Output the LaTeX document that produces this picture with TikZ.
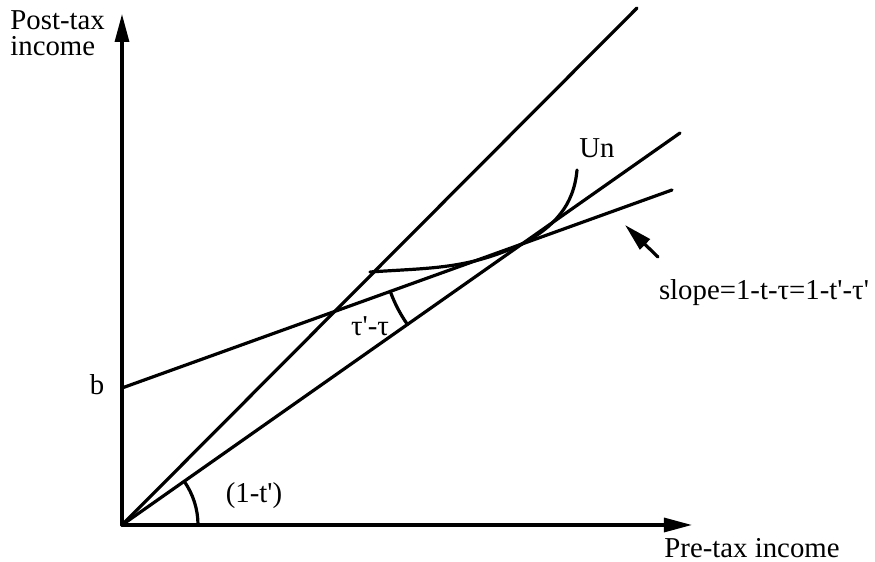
\documentclass[tikz,border=0pt]{standalone}
\usepackage{fontspec}
\setmainfont{Liberation Serif}
\usepackage{tikz}
\usetikzlibrary{arrows.meta,calc}
\newcommand\pr{\textquotesingle}
\tikzset{
  >={Triangle[length=14pt,width=7pt]},
  ln/.style={line width=1.6pt,line cap=round},
  axis/.style={ln,->},
  lab/.style={font=\fontsize{14.4}{13}\selectfont,inner sep=0pt,align=left},
}
\begin{document}
\begin{tikzpicture}[x=0.5pt,y=0.5pt]
\useasboundingbox (-122,-37) rectangle (753,525);
% axes
\coordinate (O) at (0,0);
\coordinate (ytip) at (0,511);
\coordinate (xtip) at (570,0);
\draw[axis] (O) -- (ytip);
\draw[axis] (O) -- (xtip);
\node[lab,anchor=north west] (ylab) at (-112,515) {Post-tax\\income};
\node[lab] (xlab) at (630,-23) {Pre-tax income};
% budget lines
\coordinate (steep) at (515,517);
\coordinate (low) at (558,392);
\coordinate (b) at (0,137);
\coordinate (bend) at (550,335);
\coordinate (T) at (400,281);
\draw[ln] (O) -- (steep);
\draw[ln] (O) -- (low);
\draw[ln] (b) -- (bend);
\node[lab] (blab) at (-25,140) {b};
% indifference curve
\coordinate (ua) at (248,253);
\coordinate (ub) at (455,355);
\draw[ln] (ua) to[out=4,in=205] (T) to[out=28,in=-95] (ub);
\node[lab] (un) at (475,377) {Un};
% angles
\draw[ln] ([shift={(199.8:140)}]T) arc[start angle=199.8,end angle=215.1,radius=140];
\node[lab] (dtau) at (248,199) {τ\pr-τ};
\draw[ln] ([shift={(0:76)}]O) arc[start angle=0,end angle=35.1,radius=76];
\node[lab] (tp) at (132,29) {(1-t\pr)};
% slope note
\node[lab] (slope) at (642,232) {slope=1-t-τ=1-t\pr-τ\pr};
\coordinate (pa) at (536,268);
\coordinate (pb) at (503,300);
\draw[axis] (pa) -- (pb);
\end{tikzpicture}
\end{document}
